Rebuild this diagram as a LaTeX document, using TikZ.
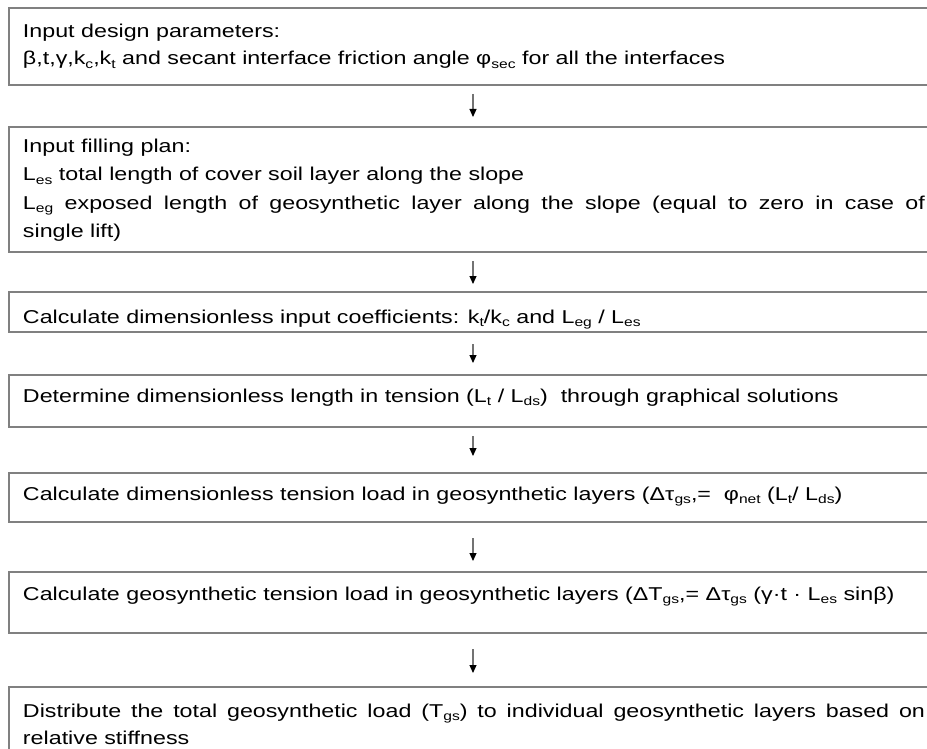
\documentclass[tikz,border=0pt]{standalone}
\usepackage{fontspec}
\setmainfont[FakeStretch=1.25]{Liberation Sans}
\usetikzlibrary{arrows.meta}
\newcommand\sbs[1]{\raisebox{-3.5pt}{\fontsize{12.5}{12.5}\selectfont #1}}
\tikzset{
  stepbox/.style={draw=black!50, line width=1.5pt, fill=white, minimum width=940pt, inner sep=0pt, outer sep=0pt, anchor=north west},
  txt/.style={anchor=base west, inner sep=0pt, outer sep=0pt, font=\fontsize{18.6}{27.5}\selectfont},
  arr/.style={draw=black!55, line width=1.1pt, -{Triangle[width=7pt,length=8pt,black]}}
}
\begin{document}
\begin{tikzpicture}[x=1pt,y=1pt]
\clip (0,0) rectangle (927,-749);
\fill[white] (0,0) rectangle (927,-749);
% boxes
\node[stepbox, minimum height=77pt] (b1) at (9,-8) {};
\node[stepbox, minimum height=125pt] (b2) at (9,-127) {};
\node[stepbox, minimum height=40pt] (b3) at (9,-292) {};
\node[stepbox, minimum height=52pt] (b4) at (9,-375) {};
\node[stepbox, minimum height=49pt] (b5) at (9,-473) {};
\node[stepbox, minimum height=61pt] (b6) at (9,-572) {};
\node[stepbox, minimum height=90pt] (b7) at (9,-687) {};
% texts
\node[txt] (t1a) at (23,-38) {Input design parameters:};
\node[txt] (t1b) at (23,-65) {β,t,γ,k\sbs{c},k\sbs{t} and secant interface friction angle φ\sbs{sec} for all the interfaces};
\node[txt] (t2a) at (23,-153) {Input filling plan:};
\node[txt] (t2b) at (23,-181) {L\sbs{es} total length of cover soil layer along the slope};
\node[txt] (t2c) at (23,-209) {\makebox[902pt][s]{L\sbs{eg} exposed length of geosynthetic layer along the slope (equal to zero in case of}};
\node[txt] (t2d) at (23,-237) {single lift)};
\node[txt] (t3) at (23,-323) {Calculate dimensionless input coefficients: k\sbs{t}/k\sbs{c} and L\sbs{eg} / L\sbs{es}};
\node[txt] (t4) at (23,-402) {Determine dimensionless length in tension (L\sbs{t} / L\sbs{ds})\ \ through graphical solutions};
\node[txt] (t5) at (23,-500) {Calculate dimensionless tension load in geosynthetic layers (Δτ\sbs{gs},=\ \ φ\sbs{net} (L\sbs{t}/ L\sbs{ds})};
\node[txt] (t6) at (23,-600) {Calculate geosynthetic tension load in geosynthetic layers (ΔT\sbs{gs},= Δτ\sbs{gs}\ (γ·t · L\sbs{es} sinβ)};
\node[txt] (t7a) at (23,-717) {\makebox[902pt][s]{Distribute the total geosynthetic load (T\sbs{gs}) to individual geosynthetic layers based on}};
\node[txt] (t7b) at (23,-744) {relative stiffness};
% arrows
\coordinate (a1s) at (473,-94);  \coordinate (a1e) at (473,-117);
\coordinate (a2s) at (473,-261); \coordinate (a2e) at (473,-284);
\coordinate (a3s) at (473,-344); \coordinate (a3e) at (473,-363);
\coordinate (a4s) at (473,-436); \coordinate (a4e) at (473,-456);
\coordinate (a5s) at (473,-538); \coordinate (a5e) at (473,-561);
\coordinate (a6s) at (473,-649); \coordinate (a6e) at (473,-673);
\draw[arr] (a1s) -- (a1e);
\draw[arr] (a2s) -- (a2e);
\draw[arr] (a3s) -- (a3e);
\draw[arr] (a4s) -- (a4e);
\draw[arr] (a5s) -- (a5e);
\draw[arr] (a6s) -- (a6e);
\end{tikzpicture}
\end{document}
